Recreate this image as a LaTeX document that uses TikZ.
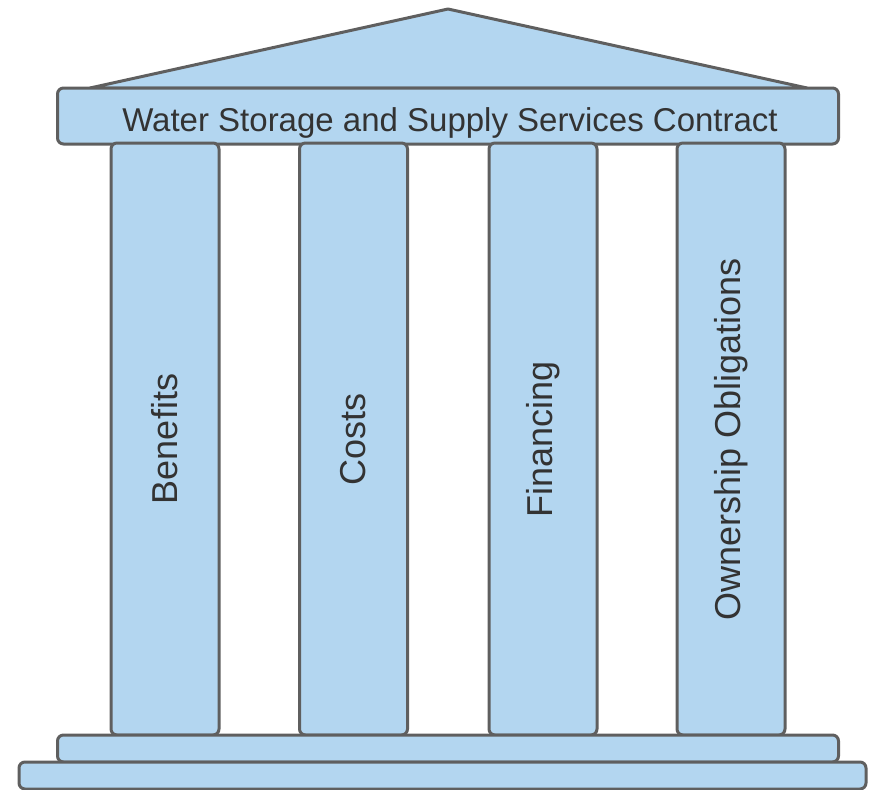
\documentclass[tikz,border=0pt]{standalone}
\usepackage{fontspec}
\setmainfont{Liberation Sans}
\definecolor{pfill}{HTML}{B3D6F0}
\definecolor{pline}{HTML}{5F5F5F}
\definecolor{ptext}{HTML}{333333}
\begin{document}
\begin{tikzpicture}[x=1pt,y=-1pt,
  part/.style={draw=pline,fill=pfill,line width=3pt,rounded corners=6pt,inner sep=0pt,outer sep=0pt,rectangle},
  lbl/.style={text=ptext,inner sep=0pt}]
\useasboundingbox (0,0) rectangle (871,790);
\draw[draw=pline,fill=pfill,line width=3pt,line join=round] (90,88) -- (448,9) -- (807,88) -- cycle;
\node[part,minimum width=781pt,minimum height=56pt] (arch) at (448,116) {};
\node[lbl,anchor=base,font=\fontsize{33}{38}\selectfont] (archt) at (450,131) {Water Storage and Supply Services Contract};
\foreach \n/\cx/\t in {c1/165/Benefits,c2/353.5/Costs,c3/543/Financing,c4/731/Ownership Obligations}{
  \node[part,minimum width=108pt,minimum height=592pt] (\n) at (\cx,439) {};
  \node[lbl,rotate=90,font=\fontsize{36}{40}\selectfont] (\n t) at (\n) {\t};
}
\node[part,minimum width=781pt,minimum height=27pt] (base1) at (448,748.5) {};
\node[part,minimum width=847pt,minimum height=27pt] (base2) at (442.5,775.5) {};
\end{tikzpicture}
\end{document}
